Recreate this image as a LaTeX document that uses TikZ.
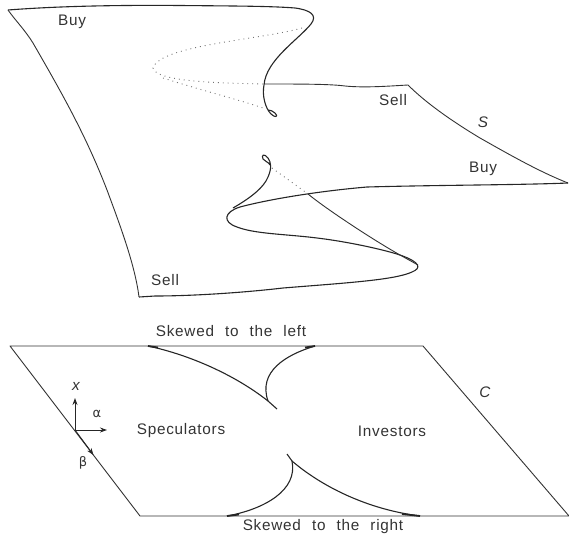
\documentclass[tikz,border=0pt]{standalone}
\usepackage{fontspec}
\setmainfont{Liberation Sans}[LetterSpace=5,WordSpace=2.2]
\newfontfamily\gr{DejaVu Sans}
\usetikzlibrary{arrows.meta}
\tikzset{
  curve/.style={line width=1.1pt,black!85,line join=round},
  edge/.style={line width=0.9pt,black!80,line join=round},
  dots/.style={line width=0.9pt,black!55,dash pattern=on 0.9pt off 4pt},
  lab/.style={font=\fontsize{15.3}{17}\selectfont,text=black!80,inner sep=0pt},
  ilab/.style={lab,font=\fontsize{15.3}{17}\selectfont\itshape},
  glab/.style={lab,font=\fontsize{13}{15}\gr},
  axis/.style={line width=0.9pt,black!85,-{Stealth[length=7pt,width=5pt]}}
}
\begin{document}
\begin{tikzpicture}[x=1pt,y=-1pt]
\useasboundingbox (0,0) rectangle (569,538);
% Surface S
\coordinate (tl) at (8,10);
\coordinate (bl) at (139,297);
\coordinate (sr) at (408,85);
\coordinate (r) at (568,183);
\coordinate (fold) at (264,84);
\coordinate (cross) at (308,194);
\coordinate (tip) at (418,265);
\draw[curve] (tl) .. controls (60,6) and (120,5) .. (180,5.5)
  .. controls (230,6) and (270,6) .. (295,8)
  .. controls (310,10) and (318,15) .. (311,24)
  .. controls (298,40) and (266,60) .. (264,85)
  .. controls (262,95) and (265,108) .. (271,114)
  .. controls (275,118) and (279,117) .. (275,113)
  .. controls (273,111) and (270,110) .. (268,110);
\draw[edge] (fold) .. controls (300,84) and (330,84) .. (345,86)
  .. controls (365,88) and (390,86) .. (sr)
  .. controls (425,102) and (450,120) .. (480,138)
  .. controls (510,155) and (540,172) .. (r);
\draw[curve] (r) .. controls (520,185) and (440,185) .. (367,187)
  .. controls (320,191) and (270,199) .. (240,207)
  .. controls (224,212) and (222,222) .. (237,227)
  .. controls (255,234) and (285,234) .. (317,238)
  .. controls (350,242) and (385,250) .. (400,255)
  .. controls (420,262) and (422,268) .. (412,272)
  .. controls (395,280) and (345,283) .. (283,288)
  .. controls (240,293) and (190,296) .. (155,296)
  -- (bl);
\draw[edge] (cross) .. controls (325,208) and (370,238) .. (400,255) -- (tip);
\draw[curve] (233,208) .. controls (252,197) and (264,187) .. (268,177)
  .. controls (272,168) and (271,162) .. (268,158)
  .. controls (264,153) and (261,155) .. (263,159)
  .. controls (265,162) and (269,162) .. (270,165);
\draw[edge] (tl) .. controls (15,20) and (25,30) .. (33,43)
  .. controls (60,90) and (85,133) .. (107,190)
  .. controls (120,225) and (135,265) .. (bl);
\draw[dots] (302,28) .. controls (260,40) and (160,45) .. (153,68)
  .. controls (156,82) and (220,83) .. (fold);
\draw[dots] (163,78) .. controls (200,90) and (240,100) .. (263,108);
\draw[dots] (272,168) -- (cross);
\node[lab] (buy1) at (72,22) {Buy};
\node[lab] (sell1) at (393,100) {Sell};
\node[ilab] (s) at (483,122) {S};
\node[lab] (buy2) at (483,169) {Buy};
\node[lab] (sell2) at (165,280) {Sell};
% Plane C
\coordinate (a) at (10,346);
\coordinate (b) at (423,346);
\coordinate (c) at (569,516);
\coordinate (d) at (140,516);
\draw[edge] (a) -- (b) -- (c) -- (d) -- cycle;
\coordinate (c1) at (148,346);
\coordinate (c2) at (277,409);
\coordinate (c3) at (315,346);
\coordinate (c7) at (268,401);
\draw[curve] (c1) .. controls (190,355) and (235,375) .. (c7) -- (c2);
\draw[curve] (c3) .. controls (285,355) and (258,372) .. (c7);
\coordinate (c4) at (287,454);
\coordinate (c8) at (292,461);
\coordinate (c5) at (227,516);
\coordinate (c6) at (420,516);
\draw[curve] (c4) -- (c8) .. controls (320,485) and (365,509) .. (c6);
\draw[curve] (c8) .. controls (298,490) and (265,509) .. (c5);
\draw[curve,line width=1.8pt] (148,346) -- (158,347.5);
\draw[curve,line width=1.8pt] (315,346) -- (305,347.5);
\draw[curve,line width=1.8pt] (227,516) -- (239,514.5);
\draw[curve,line width=1.8pt] (420,516) -- (402,514);
\coordinate (o) at (75,430);
\coordinate (xt) at (75,398);
\coordinate (at) at (107,430);
\coordinate (bt) at (93.5,455);
\draw[axis] (o) -- (xt);
\draw[axis] (o) -- (at);
\draw[axis] (o) -- (bt);
\node[lab] (sl) at (231,331) {Skewed to the left};
\node[lab] (sr2) at (323,527) {Skewed to the right};
\node[lab] (sp) at (181,431) {Speculators};
\node[lab] (in) at (392,431) {Investors};
\node[ilab] (cc) at (485,392) {C};
\node[ilab] (xl) at (76,386) {x};
\node[glab] (al) at (97,414) {α};
\node[glab] (bl2) at (83,463) {β};
\end{tikzpicture}
\end{document}
